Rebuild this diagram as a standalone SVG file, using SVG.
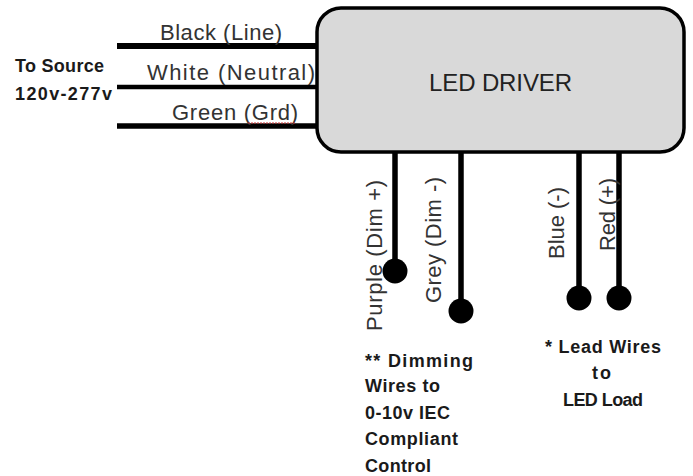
<svg xmlns="http://www.w3.org/2000/svg" width="693" height="476" viewBox="0 0 693 476">
<style>
text{font-family:"Liberation Sans",sans-serif}
.l{font-size:22px;fill:#333}
.b{font-size:18px;font-weight:700;fill:#1a1a1a}
.w{stroke:#000;fill:none}
</style>
<rect width="693" height="476" fill="#fff"/>
<g id="connectors">
<path class="w" stroke-width="6" d="M117 46H318"/>
<path class="w" stroke-width="4.5" d="M117 87H318"/>
<path class="w" stroke-width="5.5" d="M117 126H318"/>
<path class="w" stroke-width="5.5" d="M395 152V270"/>
<path class="w" stroke-width="5.5" d="M461 152V310"/>
<path class="w" stroke-width="5.5" d="M579 152V298"/>
<path class="w" stroke-width="5.5" d="M619 152V298"/>
<circle cx="395" cy="271" r="12.5" fill="#000"/>
<circle cx="461" cy="311" r="12.5" fill="#000"/>
<circle cx="579" cy="298" r="12.5" fill="#000"/>
<circle cx="619" cy="298" r="12.5" fill="#000"/>
</g>
<g id="led-driver">
<rect x="317" y="8" width="367" height="144" rx="24" ry="24" fill="#d9d9d9" stroke="#000" stroke-width="3.5"/>
<text x="429" y="91" font-size="24" fill="#222" textLength="143">LED DRIVER</text>
</g>
<g id="labels">
<text class="l" x="160" y="40" textLength="122">Black (Line)</text>
<text class="l" x="147" y="80" textLength="168">White (Neutral)</text>
<text class="l" x="172" y="120" textLength="126">Green (Grd)</text>
<path d="M248 123H296" stroke="#c33" stroke-width="1" stroke-dasharray="2 1" fill="none"/>
<text class="b" x="15" y="72" textLength="89">To Source</text>
<text class="b" x="15" y="100" textLength="97">120v-277v</text>
<text class="l" transform="translate(382 331) rotate(-90)" textLength="151">Purple (Dim +)</text>
<text class="l" transform="translate(441 303) rotate(-90)" textLength="126">Grey (Dim -)</text>
<text class="l" transform="translate(564 259) rotate(-90)" textLength="72">Blue (-)</text>
<text class="l" transform="translate(615 251) rotate(-90)" textLength="73">Red (+)</text>
<text class="b" x="365" y="367" textLength="108">** Dimming</text>
<text class="b" x="365" y="392" textLength="75">Wires to</text>
<text class="b" x="365" y="419" textLength="85">0-10v IEC</text>
<text class="b" x="365" y="445" textLength="93">Compliant</text>
<text class="b" x="365" y="472" textLength="66">Control</text>
<text class="b" x="545" y="353" textLength="116">* Lead Wires</text>
<text class="b" x="592" y="379" textLength="19">to</text>
<text class="b" x="563" y="406" textLength="80">LED Load</text>
</g>
</svg>
